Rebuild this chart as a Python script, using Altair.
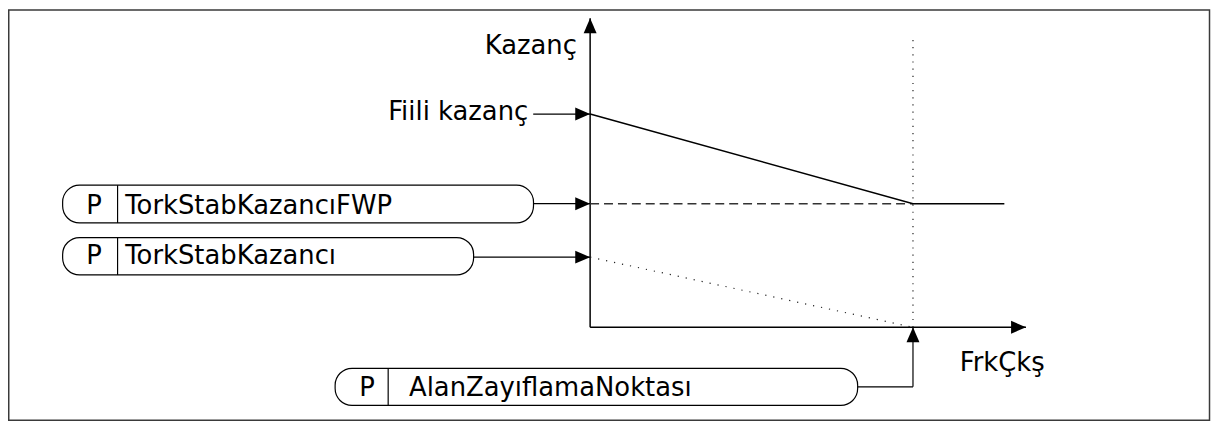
import altair as alt
import pandas as pd

# ---------------- data (diagram values) ----------------
# x: output frequency (0 = origin, 100 = field weakening point)
# y: gain
freq_actual = [0, 100, 128.3]          # actual gain curve
gain_actual = [69, 40, 40]
gain_fwp = 40                           # TorkStabKazancıFWP
gain_base = 22.7                        # TorkStabKazancı
fwp_freq = 100                          # AlanZayıflamaNoktası
x_axis_end = 135
y_axis_end = 100
fwp_marker_top = 93.3

axis_y_label = "Kazanç"
axis_x_label = "FrkÇkş"
actual_label = "Fiili kazanç"
param_prefix = "P"
param_names = ["TorkStabKazancıFWP", "TorkStabKazancı", "AlanZayıflamaNoktası"]

# ---------------- layout (chart pixels) ----------------
W, H = 1211, 416
FONT = "DejaVu Sans"
FS = 26
xs = alt.Scale(domain=[0, 100], range=[586, 911])
ys = alt.Scale(domain=[0, 100], range=[320, 9])

# boxes: left, right, top, bottom, divider, text baseline, P x, label x
boxes = [
    dict(l=55, r=529, t=177, b=215, d=110.3, base=206.3, px=78.7, tx=118, name=param_names[0]),
    dict(l=55, r=468.7, t=229.7, b=267.3, d=110.3, base=256.3, px=78.7, tx=118, name=param_names[1]),
    dict(l=329.3, r=855.3, t=361.3, b=398.7, d=382.7, base=389.7, px=353.7, tx=403.7, name=param_names[2]),
]
box3_mid = 380
actual_arrow_start = 528.7

ARROW = "M0,0L-0.87,2L0.87,2Z"  # tip at origin, pointing up
one = pd.DataFrame({"k": [0]})


def X(f):
    return alt.X(f"{f}:Q", scale=xs, axis=None)


def Y(f):
    return alt.Y(f"{f}:Q", scale=ys, axis=None)


layers = []

# outer frame
layers.append(
    alt.Chart(one).mark_rect(fillOpacity=0, stroke="#3a3a3a", strokeWidth=1.5).encode(
        x=alt.value(0.75), x2=alt.value(W - 1.5), y=alt.value(0.75), y2=alt.value(H - 2.5)
    )
)

# axes
yaxis_df = pd.DataFrame({"x": [0], "y0": [0], "y1": [y_axis_end]})
layers.append(
    alt.Chart(yaxis_df).mark_rule(color="black", strokeWidth=1.5).encode(
        x=X("x"), y=Y("y0"), y2="y1"
    )
)
xaxis_df = pd.DataFrame({"x0": [0], "x1": [x_axis_end], "y": [0]})
layers.append(
    alt.Chart(xaxis_df).mark_rule(color="black", strokeWidth=1.5).encode(
        x=X("x0"), x2="x1", y=Y("y")
    )
)

# FWP dashed level
fwp_df = pd.DataFrame({"x0": [0], "x1": [fwp_freq], "y": [gain_fwp]})
layers.append(
    alt.Chart(fwp_df).mark_rule(color="#333333", strokeWidth=1.5, strokeDash=[9, 5]).encode(
        x=X("x0"), x2="x1", y=Y("y")
    )
)

# dotted base gain line
base_df = pd.DataFrame({"x": [0, fwp_freq], "y": [gain_base, 0]})
layers.append(
    alt.Chart(base_df).mark_line(color="#222222", strokeWidth=1.2, strokeDash=[1.2, 7]).encode(
        x=X("x"), y=Y("y")
    )
)

# dotted vertical at field weakening point
vert_df = pd.DataFrame({"x": [fwp_freq], "y0": [0], "y1": [fwp_marker_top]})
layers.append(
    alt.Chart(vert_df).mark_rule(color="#222222", strokeWidth=1.2, strokeDash=[1.2, 6]).encode(
        x=X("x"), y=Y("y0"), y2="y1"
    )
)

# actual gain curve
act_df = pd.DataFrame({"x": freq_actual, "y": gain_actual})
layers.append(
    alt.Chart(act_df).mark_line(color="black", strokeWidth=1.5).encode(
        x=X("x"), y=Y("y")
    )
)

# arrow shafts into y axis
shaft_df = pd.DataFrame({
    "x": [0, 0, 0],
    "y": [gain_actual[0], gain_fwp, gain_base],
})
starts = [actual_arrow_start, boxes[0]["r"], boxes[1]["r"]]
for i in range(3):
    layers.append(
        alt.Chart(shaft_df.iloc[[i]]).mark_rule(color="black", strokeWidth=1.2).encode(
            x=X("x"), x2=alt.value(starts[i]), y=Y("y")
        )
    )

# connector from AlanZayıflamaNoktası box to x axis
conn_df = pd.DataFrame({"x": [fwp_freq], "y": [0]})
layers.append(
    alt.Chart(conn_df).mark_rule(color="black", strokeWidth=1.2).encode(
        x=X("x"), x2=alt.value(boxes[2]["r"]), y=alt.value(box3_mid)
    )
)
layers.append(
    alt.Chart(conn_df).mark_rule(color="black", strokeWidth=1.2).encode(
        x=X("x"), y=Y("y"), y2=alt.value(box3_mid)
    )
)

# arrowheads
up_df = pd.DataFrame({"x": [0, fwp_freq], "y": [y_axis_end, 0]})
layers.append(
    alt.Chart(up_df).mark_point(shape=ARROW, size=225, filled=True, fill="black",
                                strokeWidth=0, opacity=1, angle=0).encode(
        x=X("x"), y=Y("y")
    )
)
right_df = pd.DataFrame({"x": [0, 0, 0, x_axis_end],
                         "y": [gain_actual[0], gain_fwp, gain_base, 0]})
layers.append(
    alt.Chart(right_df).mark_point(shape=ARROW, size=225, filled=True, fill="black",
                                   strokeWidth=0, opacity=1, angle=90).encode(
        x=X("x"), y=Y("y")
    )
)

# parameter boxes
for b in boxes:
    layers.append(
        alt.Chart(one).mark_rect(fill="white", stroke="black", strokeWidth=1.2,
                                 cornerRadius=17).encode(
            x=alt.value(b["l"]), x2=alt.value(b["r"]), y=alt.value(b["t"]), y2=alt.value(b["b"])
        )
    )
    layers.append(
        alt.Chart(one).mark_rule(color="black", strokeWidth=1.2).encode(
            x=alt.value(b["d"]), y=alt.value(b["t"]), y2=alt.value(b["b"])
        )
    )
    layers.append(
        alt.Chart(one).mark_text(text=param_prefix, align="left", baseline="alphabetic",
                                 font=FONT, fontSize=FS, color="black").encode(
            x=alt.value(b["px"]), y=alt.value(b["base"])
        )
    )
    layers.append(
        alt.Chart(one).mark_text(text=b["name"], align="left", baseline="alphabetic",
                                 font=FONT, fontSize=FS, color="black").encode(
            x=alt.value(b["tx"]), y=alt.value(b["base"])
        )
    )

# free labels
labels = [
    (axis_y_label, 572.7, 44.7, "right"),
    (actual_label, 523.7, 111.7, "right"),
    (axis_x_label, 958, 363.7, "left"),
]
for txt, lx, ly, al in labels:
    layers.append(
        alt.Chart(one).mark_text(text=txt, align=al, baseline="alphabetic",
                                 font=FONT, fontSize=FS, color="black").encode(
            x=alt.value(lx), y=alt.value(ly)
        )
    )

chart = alt.layer(*layers).properties(
    width=W, height=H, padding=0, autosize=alt.AutoSizeParams(type="none")
).configure_view(stroke=None)

chart.save("out.html", embed_options={"renderer": "svg", "actions": False})
